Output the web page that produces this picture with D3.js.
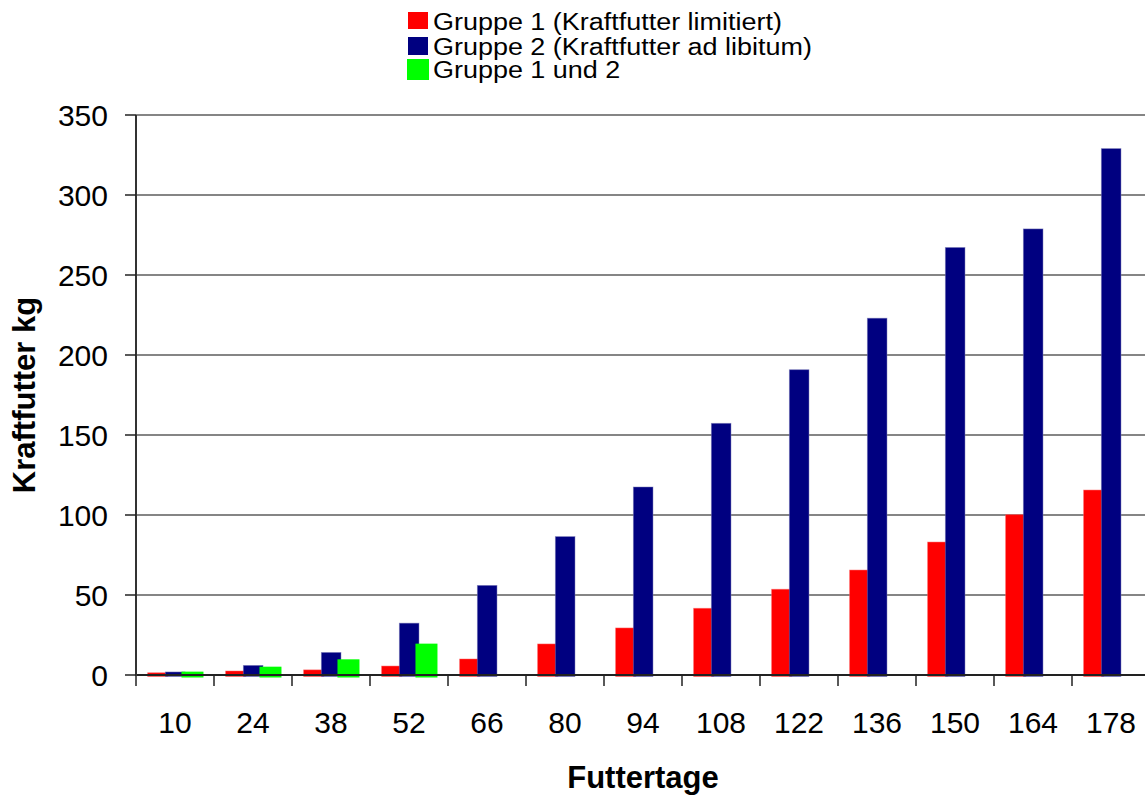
<!DOCTYPE html>
<html>
<head>
<meta charset="utf-8">
<script src="https://cdn.jsdelivr.net/npm/d3@7/dist/d3.min.js"></script>
<style>
  html, body { margin: 0; padding: 0; background: #fff; }
  svg { display: block; font-family: Arial, "Liberation Sans", sans-serif; }
</style>
</head>
<body>
<svg id="chart" width="1145" height="796"></svg>
<script>
// Futtertage (feeding days)
const categories = [10, 24, 38, 52, 66, 80, 94, 108, 122, 136, 150, 164, 178];
// Cumulative concentrate intake, kg
const gruppe1 = [1.4, 2.5, 3.2, 5.6, 10, 19.4, 29.4, 41.7, 53.6, 65.6, 83.1, 100.2, 115.6];
const gruppe2 = [1.9, 6, 14.1, 32.4, 56, 86.5, 117.5, 157.3, 190.8, 223, 267.2, 278.8, 329];
const gruppe12 = [2.1, 5.2, 9.8, 19.6, null, null, null, null, null, null, null, null, null];
const yTicks = [0, 50, 100, 150, 200, 250, 300, 350];

const seriesNames = [
  "Gruppe 1 (Kraftfutter limitiert)",
  "Gruppe 2 (Kraftfutter ad libitum)",
  "Gruppe 1 und 2"
];
const colors = ["#ff0000", "#000080", "#00ff00"];

const svg = d3.select("#chart");
const plot = { left: 136, top: 115, bottom: 675 };
const step = 78;
plot.right = plot.left + step * categories.length;

const x = d3.scaleBand().domain(categories).range([plot.left, plot.right]).padding(0);
const y = d3.scaleLinear().domain([0, 350]).range([plot.bottom, plot.top]);

// horizontal gridlines
svg.append("g").selectAll("line").data(yTicks.filter(d => d > 0)).join("line")
  .attr("x1", plot.left).attr("x2", plot.right)
  .attr("y1", d => y(d)).attr("y2", d => y(d))
  .attr("stroke", "#858585").attr("stroke-width", 2);

// bars: each series sits at its own offset inside the category band
const bw = x.bandwidth();
const layout = [
  { data: gruppe1, off: 0.149 * bw, w: 0.26 * bw, ext: 1.5 },
  { data: gruppe2, off: 0.376 * bw, w: 0.252 * bw, ext: 1.5 },
  { data: gruppe12, off: 0.583 * bw, w: 0.282 * bw, ext: 2.5 }
];
layout.forEach((s, i) => {
  const pts = categories.map((c, j) => ({ c, v: s.data[j] })).filter(d => d.v != null);
  svg.append("g").selectAll("rect").data(pts).join("rect")
    .attr("x", d => x(d.c) + s.off)
    .attr("width", s.w)
    .attr("y", d => y(d.v))
    .attr("height", d => y(0) - y(d.v) + s.ext)
    .attr("fill", colors[i])
    .attr("stroke", i === 1 ? "#7a7ab8" : (i === 0 ? "#ff6060" : "none"))
    .attr("stroke-width", i === 2 ? 0 : 0.8)
    .attr("stroke-opacity", 0.6);
});

// x axis line with tick marks at the category boundaries
svg.append("line")
  .attr("x1", plot.left).attr("x2", plot.right)
  .attr("y1", y(0)).attr("y2", y(0))
  .attr("stroke", "#222").attr("stroke-width", 2);
const xb = categories.map(c => x(c)).concat([plot.right]);
svg.append("g").selectAll("line").data(xb).join("line")
  .attr("x1", d => d).attr("x2", d => d)
  .attr("y1", y(0)).attr("y2", y(0) + 11)
  .attr("stroke", "#222").attr("stroke-width", 1.5);

// x tick labels
svg.append("g").selectAll("text").data(categories).join("text")
  .attr("x", d => x(d) + bw / 2)
  .attr("y", 733)
  .attr("text-anchor", "middle")
  .attr("font-size", 30)
  .attr("fill", "#000")
  .text(d => d);

// y axis line and ticks
svg.append("line")
  .attr("x1", plot.left).attr("x2", plot.left)
  .attr("y1", plot.top).attr("y2", plot.bottom + 1)
  .attr("stroke", "#333").attr("stroke-width", 2);
svg.append("g").selectAll("line").data(yTicks).join("line")
  .attr("x1", plot.left - 11).attr("x2", plot.left)
  .attr("y1", d => y(d)).attr("y2", d => y(d))
  .attr("stroke", "#222").attr("stroke-width", 1.5);
svg.append("g").selectAll("text").data(yTicks).join("text")
  .attr("x", 108)
  .attr("y", d => y(d))
  .attr("dy", "0.36em")
  .attr("text-anchor", "end")
  .attr("font-size", 30)
  .attr("fill", "#000")
  .text(d => d);

// axis titles
svg.append("text")
  .attr("x", (plot.left + plot.right) / 2)
  .attr("y", 788)
  .attr("text-anchor", "middle")
  .attr("font-size", 31)
  .attr("font-weight", "bold")
  .text("Futtertage");
svg.append("text")
  .attr("transform", `translate(35,${(plot.top + plot.bottom) / 2}) rotate(-90)`)
  .attr("text-anchor", "middle")
  .attr("font-size", 31)
  .attr("font-weight", "bold")
  .text("Kraftfutter kg");

// legend (text slightly widened)
const legendItems = [
  { sx: 408, sy: 12, sw: 20, sh: 17, ty: 30 },
  { sx: 408, sy: 37, sw: 20, sh: 18, ty: 54.5 },
  { sx: 407, sy: 59, sw: 22, sh: 21, ty: 78 }
];
const legend = svg.append("g");
legendItems.forEach((it, i) => {
  legend.append("rect")
    .attr("x", it.sx).attr("y", it.sy)
    .attr("width", it.sw).attr("height", it.sh)
    .attr("fill", colors[i]);
  legend.append("text")
    .attr("transform", `translate(433,${it.ty}) scale(1.1,1)`)
    .attr("font-size", 24.5)
    .attr("fill", "#000")
    .text(seriesNames[i]);
});
</script>
</body>
</html>
